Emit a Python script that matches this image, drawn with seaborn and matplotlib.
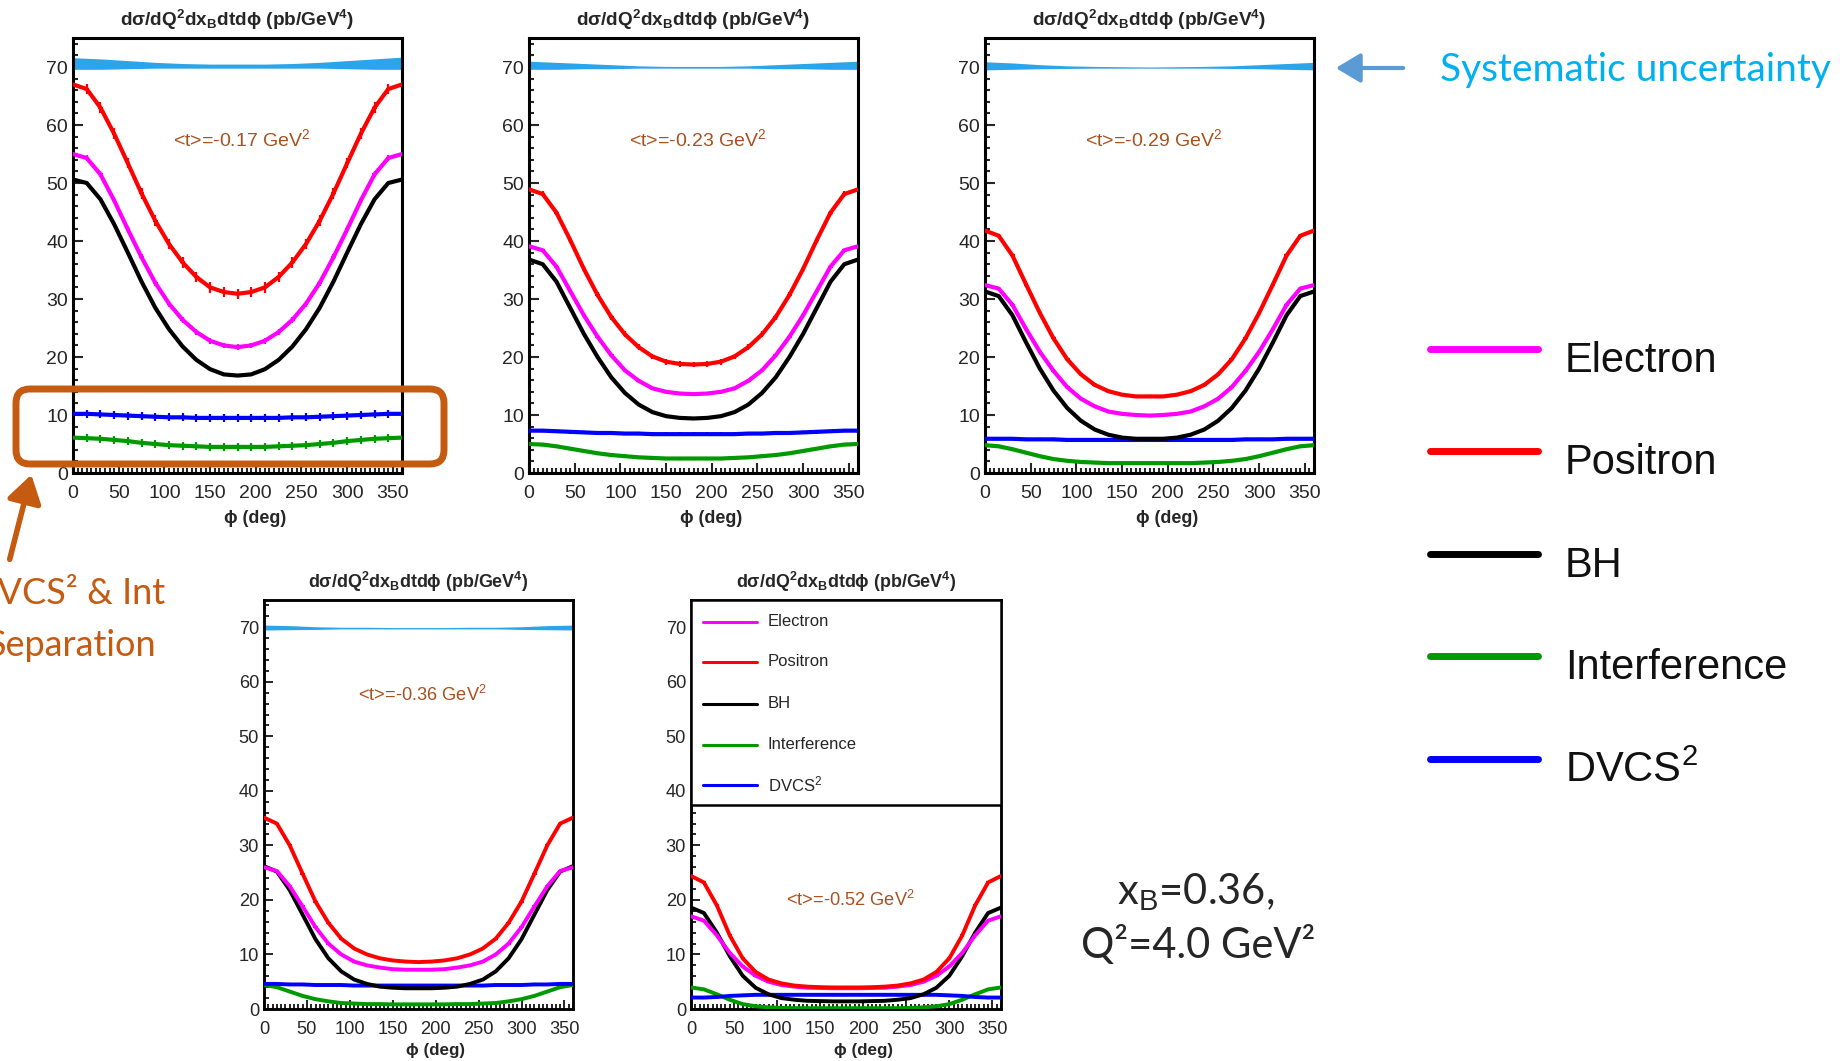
import numpy as np
import matplotlib
matplotlib.use("Agg")
import matplotlib.pyplot as plt
import seaborn as sns
from matplotlib.patches import FancyBboxPatch, FancyArrowPatch, Rectangle
from matplotlib.transforms import IdentityTransform
from matplotlib.ticker import MultipleLocator

sns.set_style("white")
plt.rcParams['font.family'] = ['Liberation Sans', 'DejaVu Sans']
plt.rcParams['mathtext.fontset'] = 'custom'
plt.rcParams['mathtext.rm'] = 'Liberation Sans'
plt.rcParams['mathtext.it'] = 'Liberation Sans:italic'
plt.rcParams['mathtext.bf'] = 'Liberation Sans:bold'

# ---------------- data ----------------
phi = [0, 15, 30, 45, 60, 75, 90, 105, 120, 135, 150, 165, 180,
       195, 210, 225, 240, 255, 270, 285, 300, 315, 330, 345, 360]
phi_sys = [0, 30, 60, 90, 120, 150, 180, 210, 240, 270, 300, 330, 360]
t_labels = ["-0.17", "-0.23", "-0.29", "-0.36", "-0.52"]

electron_1 = [55.0, 54.3, 51.5, 47.0, 42.0, 37.2, 32.8, 29.2, 26.4, 24.3, 22.8, 22.0, 21.7,
              22.0, 22.8, 24.3, 26.4, 29.2, 32.8, 37.2, 42.0, 47.0, 51.5, 54.3, 55.0]
positron_1 = [67.0, 66.2, 63.0, 58.5, 53.4, 48.2, 43.5, 39.5, 36.3, 33.8, 32.0, 31.2, 30.9,
              31.2, 32.0, 33.8, 36.3, 39.5, 43.5, 48.2, 53.4, 58.5, 63.0, 66.2, 67.0]
bh_1 = [50.6, 50.0, 47.2, 42.9, 38.0, 33.0, 28.5, 24.8, 21.8, 19.5, 17.9, 17.0, 16.8,
        17.0, 17.9, 19.5, 21.8, 24.8, 28.5, 33.0, 38.0, 42.9, 47.2, 50.0, 50.6]
int_1 = [6.1, 6.0, 5.9, 5.7, 5.5, 5.2, 5.0, 4.8, 4.7, 4.6, 4.5, 4.5, 4.5,
         4.5, 4.5, 4.6, 4.7, 4.8, 5.0, 5.2, 5.5, 5.7, 5.9, 6.0, 6.1]
dvcs_1 = [10.2, 10.2, 10.1, 10.0, 9.9, 9.8, 9.7, 9.6, 9.6, 9.5, 9.5, 9.5, 9.5,
          9.5, 9.5, 9.5, 9.6, 9.6, 9.7, 9.8, 9.9, 10.0, 10.1, 10.2, 10.2]

electron_2 = [39.1, 38.4, 35.6, 31.4, 27.2, 23.5, 20.3, 17.7, 15.9, 14.6, 14.0, 13.7, 13.6,
              13.7, 14.0, 14.6, 15.9, 17.7, 20.3, 23.5, 27.2, 31.4, 35.6, 38.4, 39.1]
positron_2 = [48.9, 48.1, 44.9, 40.2, 35.2, 30.7, 26.9, 23.9, 21.7, 20.1, 19.2, 18.8, 18.7,
              18.8, 19.2, 20.1, 21.7, 23.9, 26.9, 30.7, 35.2, 40.2, 44.9, 48.1, 48.9]
bh_2 = [36.8, 36.0, 33.0, 28.5, 24.0, 20.0, 16.5, 13.8, 11.8, 10.5, 9.8, 9.5, 9.4,
        9.5, 9.8, 10.5, 11.8, 13.8, 16.5, 20.0, 24.0, 28.5, 33.0, 36.0, 36.8]
int_2 = [5.0, 4.9, 4.6, 4.2, 3.8, 3.4, 3.1, 2.9, 2.7, 2.6, 2.5, 2.5, 2.5,
         2.5, 2.5, 2.6, 2.7, 2.9, 3.1, 3.4, 3.8, 4.2, 4.6, 4.9, 5.0]
dvcs_2 = [7.3, 7.3, 7.2, 7.1, 7.0, 6.9, 6.9, 6.8, 6.8, 6.7, 6.7, 6.7, 6.7,
          6.7, 6.7, 6.7, 6.8, 6.8, 6.9, 6.9, 7.0, 7.1, 7.2, 7.3, 7.3]

electron_3 = [32.4, 31.8, 29.0, 24.8, 20.9, 17.6, 14.8, 12.8, 11.5, 10.6, 10.2, 10.0, 9.9,
              10.0, 10.2, 10.6, 11.5, 12.8, 14.8, 17.6, 20.9, 24.8, 29.0, 31.8, 32.4]
positron_3 = [41.8, 40.9, 37.5, 32.5, 27.6, 23.2, 19.6, 17.0, 15.2, 14.1, 13.5, 13.2, 13.2,
              13.2, 13.5, 14.1, 15.2, 17.0, 19.6, 23.2, 27.6, 32.5, 37.5, 40.9, 41.8]
bh_3 = [31.3, 30.5, 27.2, 22.5, 18.0, 14.2, 11.2, 9.0, 7.5, 6.6, 6.1, 5.9, 5.9,
        5.9, 6.1, 6.6, 7.5, 9.0, 11.2, 14.2, 18.0, 22.5, 27.2, 30.5, 31.3]
int_3 = [4.8, 4.6, 4.1, 3.5, 2.9, 2.4, 2.1, 1.9, 1.8, 1.7, 1.7, 1.7, 1.7,
         1.7, 1.7, 1.7, 1.8, 1.9, 2.1, 2.4, 2.9, 3.5, 4.1, 4.6, 4.8]
dvcs_3 = [5.9, 5.9, 5.9, 5.8, 5.8, 5.8, 5.7, 5.7, 5.7, 5.7, 5.7, 5.7, 5.7,
          5.7, 5.7, 5.7, 5.7, 5.7, 5.7, 5.8, 5.8, 5.8, 5.9, 5.9, 5.9]

electron_4 = [26.0, 25.3, 22.5, 18.8, 15.0, 12.0, 10.0, 8.7, 8.0, 7.6, 7.3, 7.2, 7.2,
              7.2, 7.3, 7.6, 8.0, 8.7, 10.0, 12.0, 15.0, 18.8, 22.5, 25.3, 26.0]
positron_4 = [35.1, 34.0, 30.0, 24.8, 19.7, 15.8, 12.9, 11.1, 10.0, 9.3, 8.9, 8.7, 8.6,
              8.7, 8.9, 9.3, 10.0, 11.1, 12.9, 15.8, 19.7, 24.8, 30.0, 34.0, 35.1]
bh_4 = [26.2, 25.2, 21.8, 17.3, 12.8, 9.3, 6.9, 5.4, 4.6, 4.1, 3.9, 3.8, 3.8,
        3.8, 3.9, 4.1, 4.6, 5.4, 6.9, 9.3, 12.8, 17.3, 21.8, 25.2, 26.2]
int_4 = [4.4, 4.0, 3.2, 2.4, 1.8, 1.4, 1.1, 1.0, 0.9, 0.9, 0.85, 0.85, 0.85,
         0.85, 0.85, 0.9, 0.9, 1.0, 1.1, 1.4, 1.8, 2.4, 3.2, 4.0, 4.4]
dvcs_4 = [4.6, 4.6, 4.5, 4.5, 4.4, 4.4, 4.4, 4.3, 4.3, 4.3, 4.3, 4.3, 4.3,
          4.3, 4.3, 4.3, 4.3, 4.3, 4.4, 4.4, 4.4, 4.5, 4.5, 4.6, 4.6]

electron_5 = [17.0, 16.2, 13.5, 10.3, 7.8, 6.1, 5.0, 4.4, 4.1, 3.9, 3.85, 3.8, 3.8,
              3.8, 3.85, 3.9, 4.1, 4.4, 5.0, 6.1, 7.8, 10.3, 13.5, 16.2, 17.0]
positron_5 = [24.4, 23.2, 19.0, 13.5, 9.3, 6.8, 5.4, 4.7, 4.3, 4.1, 4.0, 3.95, 3.95,
              3.95, 4.0, 4.1, 4.3, 4.7, 5.4, 6.8, 9.3, 13.5, 19.0, 23.2, 24.4]
bh_5 = [18.6, 17.6, 14.0, 9.7, 6.1, 3.9, 2.7, 2.0, 1.7, 1.5, 1.45, 1.4, 1.4,
        1.4, 1.45, 1.5, 1.7, 2.0, 2.7, 3.9, 6.1, 9.7, 14.0, 17.6, 18.6]
int_5 = [3.95, 3.6, 2.7, 1.7, 0.9, 0.5, 0.3, 0.2, 0.15, 0.15, 0.15, 0.15, 0.15,
         0.15, 0.15, 0.15, 0.15, 0.2, 0.3, 0.5, 0.9, 1.7, 2.7, 3.6, 3.95]
dvcs_5 = [2.1, 2.1, 2.2, 2.4, 2.5, 2.6, 2.6, 2.6, 2.6, 2.6, 2.6, 2.6, 2.6,
          2.6, 2.6, 2.6, 2.6, 2.6, 2.6, 2.6, 2.5, 2.4, 2.2, 2.1, 2.1]

sys_hi_1 = [71.6, 71.4, 71.1, 70.8, 70.6, 70.5, 70.5, 70.5, 70.6, 70.8, 71.1, 71.4, 71.7]
sys_lo_1 = [69.6, 69.6, 69.7, 69.8, 69.8, 69.8, 69.8, 69.8, 69.8, 69.8, 69.7, 69.6, 69.6]
sys_hi_2 = [71.0, 70.8, 70.6, 70.4, 70.2, 70.1, 70.1, 70.1, 70.2, 70.4, 70.6, 70.8, 71.0]
sys_lo_2 = [69.6, 69.6, 69.7, 69.7, 69.8, 69.8, 69.8, 69.8, 69.8, 69.7, 69.7, 69.6, 69.6]
sys_hi_3 = [70.9, 70.7, 70.4, 70.2, 70.1, 70.05, 70.0, 70.05, 70.1, 70.2, 70.4, 70.6, 70.8]
sys_lo_3 = [69.5, 69.6, 69.7, 69.75, 69.8, 69.8, 69.8, 69.8, 69.8, 69.75, 69.7, 69.6, 69.5]
sys_hi_4 = [70.4, 70.3, 70.1, 70.0, 70.0, 69.95, 69.95, 69.95, 70.0, 70.0, 70.1, 70.3, 70.4]
sys_lo_4 = [69.5, 69.55, 69.6, 69.7, 69.7, 69.7, 69.7, 69.7, 69.7, 69.7, 69.6, 69.55, 69.5]
sys_hi_5 = [70.3, 70.2, 70.1, 70.0, 70.0, 69.95, 69.95, 69.95, 70.0, 70.0, 70.1, 70.2, 70.3]
sys_lo_5 = [69.5, 69.55, 69.6, 69.7, 69.7, 69.7, 69.7, 69.7, 69.7, 69.7, 69.6, 69.55, 69.5]

# error-bar half sizes (positron, electron, interference, DVCS^2) per panel
err_1 = [0.9, 0.5, 0.7, 0.7]
err_2 = [0.5, 0.3, 0.3, 0.3]
err_3 = [0.3, 0.25, 0.25, 0.25]
err_4 = [0.15, 0.15, 0.15, 0.15]
err_5 = [0.15, 0.15, 0.15, 0.15]

series_names = ["Electron", "Positron", "BH", "Interference", "DVCS$^{2}$"]
colors = {"Electron": "#ff00ff", "Positron": "#ff0000", "BH": "#000000",
          "Interference": "#009a00", "DVCS": "#0000ff"}

panels = [
    dict(e=electron_1, p=positron_1, b=bh_1, i=int_1, d=dvcs_1, hi=sys_hi_1, lo=sys_lo_1, err=err_1, t=t_labels[0]),
    dict(e=electron_2, p=positron_2, b=bh_2, i=int_2, d=dvcs_2, hi=sys_hi_2, lo=sys_lo_2, err=err_2, t=t_labels[1]),
    dict(e=electron_3, p=positron_3, b=bh_3, i=int_3, d=dvcs_3, hi=sys_hi_3, lo=sys_lo_3, err=err_3, t=t_labels[2]),
    dict(e=electron_4, p=positron_4, b=bh_4, i=int_4, d=dvcs_4, hi=sys_hi_4, lo=sys_lo_4, err=err_4, t=t_labels[3]),
    dict(e=electron_5, p=positron_5, b=bh_5, i=int_5, d=dvcs_5, hi=sys_hi_5, lo=sys_lo_5, err=err_5, t=t_labels[4]),
]

# ---------------- layout ----------------
W, H = 1848, 1061
fig = plt.figure(figsize=(W / 100, H / 100), dpi=100)
fig.patch.set_facecolor("white")

def frac(x0, y0, x1, y1):
    return [x0 / W, 1 - y1 / H, (x1 - x0) / W, (y1 - y0) / H]

rects = [frac(73, 38, 402, 473), frac(529, 38, 858, 473), frac(985, 38, 1314, 473),
         frac(264, 600, 573, 1009), frac(691, 600, 1001, 1009)]
title_y = [20, 20, 20, 582, 582]
scale = [1.0, 1.0, 1.0, 0.94, 0.94]
annot_y = [57.6, 57.6, 57.6, 57.6, 20.0]
brown = "#a8521f"
band_color = "#2aa4ea"
phi_glyph = "ϕ"

mid_phi = phi[1:-1]
for k, (r, pdat) in enumerate(zip(rects, panels)):
    s = scale[k]
    ax = fig.add_axes(r)
    ax.fill_between(phi_sys, pdat["lo"], pdat["hi"], color=band_color, lw=0, zorder=2)
    lw = 3.0 * s
    sns.lineplot(x=phi, y=pdat["i"], color=colors["Interference"], lw=lw, ax=ax, zorder=3)
    sns.lineplot(x=phi, y=pdat["d"], color=colors["DVCS"], lw=lw, ax=ax, zorder=3)
    sns.lineplot(x=phi, y=pdat["b"], color=colors["BH"], lw=lw, ax=ax, zorder=4)
    sns.lineplot(x=phi, y=pdat["e"], color=colors["Electron"], lw=lw, ax=ax, zorder=5)
    sns.lineplot(x=phi, y=pdat["p"], color=colors["Positron"], lw=lw, ax=ax, zorder=6)
    er = pdat["err"]
    for vals, c, e, z in [(pdat["p"], colors["Positron"], er[0], 6),
                          (pdat["e"], colors["Electron"], er[1], 5),
                          (pdat["i"], colors["Interference"], er[2], 3),
                          (pdat["d"], colors["DVCS"], er[3], 3)]:
        ax.errorbar(mid_phi, vals[1:-1], yerr=e, xerr=2.5, fmt="none", ecolor=c,
                    elinewidth=1.6 * s, capsize=0, zorder=z)
    ax.set_xlim(0, 360)
    ax.set_ylim(0, 75)
    ax.xaxis.set_major_locator(MultipleLocator(50))
    ax.xaxis.set_minor_locator(MultipleLocator(5))
    ax.yaxis.set_major_locator(MultipleLocator(10))
    ax.yaxis.set_minor_locator(MultipleLocator(2))
    ax.set_yticks([0, 10, 20, 30, 40, 50, 60, 70])
    ax.tick_params(which="both", direction="in", top=False, right=False,
                   left=True, bottom=True, width=1.5 * s)
    ax.tick_params(which="major", length=7 * s, labelsize=14 * s)
    ax.tick_params(which="minor", length=3.5 * s)
    ax.tick_params(axis="y", which="major", pad=3.5)
    ax.tick_params(axis="x", which="major", pad=9)
    for sp in ax.spines.values():
        sp.set_visible(True)
        sp.set_linewidth(2.2 * s)
        sp.set_color("black")
    ax.set_xlabel(phi_glyph + " (deg)", fontsize=13 * s, fontweight="bold",
                  family=["Liberation Sans", "DejaVu Sans"])
    ax.xaxis.set_label_coords(0.555, -0.084)
    ax.set_ylabel("")
    ax.text(185, annot_y[k], "<t>=" + pdat["t"] + " GeV$^{2}$", color=brown,
            fontsize=14 * s, ha="center", va="center", zorder=8)
    xc = (r[0] + r[2] / 2)
    fig.text(xc, 1 - title_y[k] / H,
             r"dσ/dQ$^{\mathbf{2}}$dx$_{\mathbf{B}}$dtd" + phi_glyph + r" (pb/GeV$^{\mathbf{4}}$)",
             fontsize=13.7 * s, fontweight="bold", ha="center", va="center",
             family=["Liberation Sans", "DejaVu Sans"])
    if k == 4:
        ax.add_patch(Rectangle((0, 37.5), 360, 37.5, facecolor="white",
                               edgecolor="black", lw=1.8, zorder=9))
        leg_y = [71.0, 63.7, 56.0, 48.5, 41.1]
        leg_c = [colors["Electron"], colors["Positron"], colors["BH"],
                 colors["Interference"], colors["DVCS"]]
        for name, c, yy in zip(series_names, leg_c, leg_y):
            ax.plot([14, 77], [yy, yy], color=c, lw=2.2, zorder=10)
            ax.text(89, yy, name, fontsize=12, ha="left", va="center", zorder=10)

# ---------------- right-hand legend ----------------
ident = IdentityTransform()
leg_rows = [349, 451, 554, 656, 759]
leg_cols = [colors["Electron"], colors["Positron"], colors["BH"],
            colors["Interference"], colors["DVCS"]]
for name, c, yy in zip(series_names, leg_cols, leg_rows):
    fig.add_artist(plt.Line2D([1430 / W, 1538 / W], [1 - yy / H, 1 - yy / H],
                              color=c, lw=5, transform=fig.transFigure))
    fig.text(1565 / W, 1 - (yy + 23) / H, name, fontsize=30, ha="left",
             va="baseline", color="#111111")

# systematic uncertainty annotation
fig.text(1440 / W, 1 - 70 / H, "Systematic uncertainty", fontsize=28,
         family=["Lato", "DejaVu Sans"], color="#00b0f0", ha="left", va="center")
fig.add_artist(FancyArrowPatch((1406, H - 68), (1333, H - 68), transform=ident,
                               arrowstyle="-|>,head_length=10,head_width=6",
                               color="#5b9bd5", lw=3, mutation_scale=1.5))

# kinematics text
fig.text(1196 / W, 1 - 892 / H, "x$_{\\rm B}$=0.36,", fontsize=30,
         family=["Lato", "DejaVu Sans"], ha="center", va="center")
fig.text(1198 / W, 1 - 945 / H, "Q²=4.0 GeV²", fontsize=30,
         family=["Lato", "DejaVu Sans"], ha="center", va="center")

# separation box, arrow and text (partly beyond the left edge, as in the original slide)
orange = "#c55a11"
fig.add_artist(FancyBboxPatch((16, H - 464), 428, 75, transform=ident,
                              boxstyle="round,pad=0,rounding_size=14",
                              facecolor="none", edgecolor=orange, lw=5))
fig.add_artist(FancyArrowPatch((9, H - 562), (32, H - 472), transform=ident,
                               arrowstyle="-|>,head_length=11,head_width=7",
                               color=orange, lw=4, mutation_scale=1.5))
fig.text(165 / W, 1 - 593 / H, "DVCS² & Int", fontsize=26, color=orange,
         family=["Lato", "DejaVu Sans"], ha="right", va="center")
fig.text(156 / W, 1 - 645 / H, "Separation", fontsize=26, color=orange,
         family=["Lato", "DejaVu Sans"], ha="right", va="center")

fig.savefig("out.png", dpi=100, facecolor="white")
